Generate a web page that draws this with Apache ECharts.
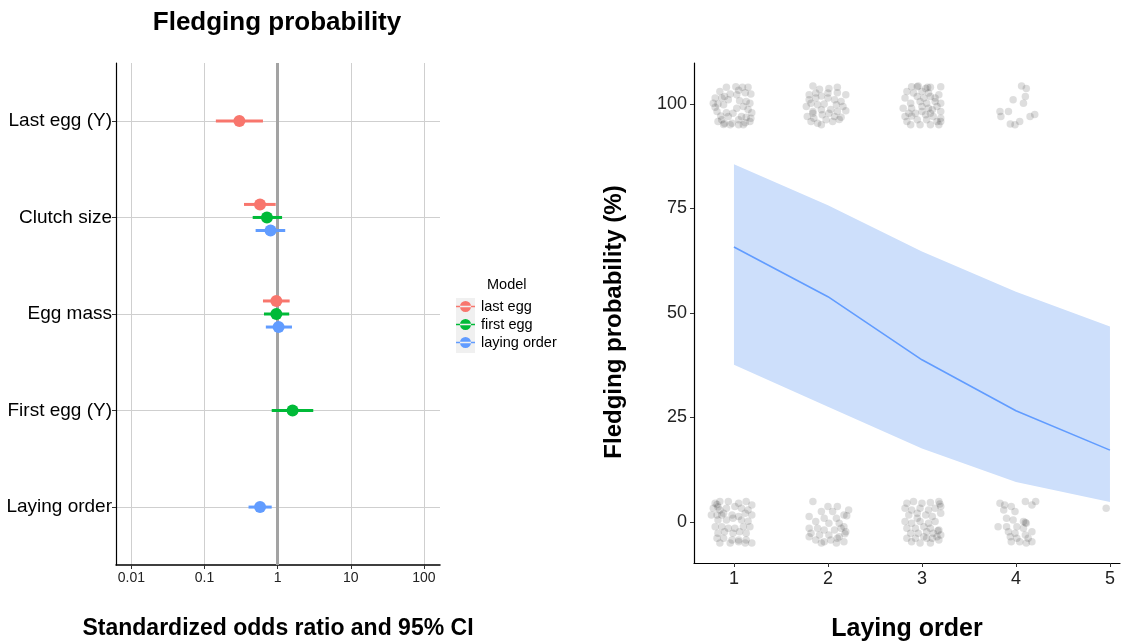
<!DOCTYPE html>
<html>
<head>
<meta charset="utf-8">
<script src="https://cdn.jsdelivr.net/npm/echarts@6/dist/echarts.min.js"></script>
<style>
html,body{margin:0;padding:0;background:#fff;}
#chart{width:1126px;height:641px;}
</style>
</head>
<body>
<div id="chart"></div>
<script>
// ---------- Left panel data ----------
const categories = ['Last egg (Y)', 'Clutch size', 'Egg mass', 'First egg (Y)', 'Laying order'];
const models = ['last egg', 'first egg', 'laying order'];
const modelColors = ['#F8766D', '#00BA38', '#619CFF'];
const oddsTickValues = [0.01, 0.1, 1, 10, 100];
const oddsTickLabels = ['0.01', '0.1', '1', '10', '100'];
// [categoryIndex, odds ratio, lower 95% CI, upper 95% CI]
const lastEggModel = [[0, 0.30, 0.143, 0.63], [1, 0.574, 0.347, 0.94], [2, 0.96, 0.63, 1.46]];
const firstEggModel = [[1, 0.714, 0.456, 1.15], [2, 0.96, 0.65, 1.44], [3, 1.60, 0.83, 3.07]];
const layingOrderModel = [[1, 0.80, 0.50, 1.27], [2, 1.03, 0.69, 1.57], [4, 0.575, 0.40, 0.83]];

// ---------- Right panel data ----------
const layingOrderTicks = [1, 2, 3, 4, 5];
const probTicks = [0, 25, 50, 75, 100];
const fitX = [1, 2, 3, 4, 5];
const fitMean = [65.8, 53.9, 38.8, 26.6, 17.2];
const fitLower = [37.6, 27.6, 17.6, 9.6, 4.8];
const fitUpper = [85.6, 75.8, 64.7, 55.1, 46.8];
// jittered raw observations (fledged = ~100, not fledged = ~0)
const obsTop1 = [[0.92,104.0],[1.02,104.1],[1.09,104.0],[1.15,104.0],[0.85,103.0],[0.96,102.4],[1.03,102.2],[1.12,102.7],[1.18,102.4],[0.80,101.4],[0.87,101.4],[0.83,100.0],[0.94,101.0],[1.06,100.8],[1.13,100.6],[1.17,100.2],[0.78,100.2],[0.89,99.8],[0.82,98.2],[0.92,97.9],[1.03,99.0],[1.10,99.4],[1.15,98.7],[0.86,97.1],[0.94,97.0],[1.08,97.0],[1.13,96.8],[1.18,96.6],[0.83,95.8],[0.90,95.4],[0.98,95.4],[1.05,96.2],[1.12,95.5],[1.17,95.8],[0.89,95.1],[0.96,95.0],[1.05,95.0],[1.10,95.0],[0.99,97.8],[0.80,99.2],[0.90,101.8],[1.05,103.3],[1.19,97.9],[0.87,96.2]];
const obsTop2 = [[1.84,104.3],[1.91,103.5],[2.01,103.7],[2.10,104.0],[2.19,102.2],[1.80,102.2],[1.87,101.4],[1.93,101.9],[2.00,101.4],[2.07,101.0],[2.14,100.6],[1.82,100.2],[1.89,99.8],[1.96,100.0],[2.09,99.8],[2.16,99.4],[1.77,99.4],[1.84,98.2],[1.93,98.6],[2.03,98.7],[2.10,98.2],[2.19,98.4],[1.78,97.0],[1.85,96.6],[1.94,97.4],[2.01,97.8],[2.07,97.0],[2.14,96.8],[1.82,95.8],[1.89,95.4],[1.98,96.2],[2.05,95.8],[2.12,96.3],[1.93,95.0],[1.84,97.8],[1.80,101.0],[1.87,102.6],[2.00,102.6],[2.10,102.7]];
const obsTop3 = [[2.89,104.1],[2.96,104.3],[3.04,103.7],[3.09,104.0],[3.20,104.1],[2.84,103.0],[2.91,102.6],[3.00,103.0],[3.07,102.6],[2.82,101.4],[2.95,101.8],[3.02,101.4],[3.09,101.8],[3.18,102.2],[2.88,100.2],[2.98,100.6],[3.05,100.2],[3.14,100.6],[3.20,100.2],[2.80,99.0],[2.89,99.0],[3.00,99.4],[3.07,99.0],[3.16,99.4],[2.86,97.8],[2.93,97.8],[3.00,98.2],[3.09,97.8],[3.20,98.2],[2.82,97.0],[2.89,97.1],[3.04,97.4],[3.12,97.0],[3.20,96.6],[2.84,95.8],[2.95,96.2],[3.05,96.2],[3.16,95.8],[3.20,95.8],[2.88,95.0],[2.98,95.0],[3.09,95.0],[3.18,95.0],[3.11,98.6],[3.14,101.4],[2.95,104.1],[3.06,104.0]];
const obsTop4 = [[4.06,104.3],[4.11,103.7],[4.10,101.8],[3.97,101.0],[4.08,100.2],[3.92,98.2],[3.83,98.2],[3.84,97.0],[4.15,97.0],[4.20,97.5],[4.04,95.8],[3.94,95.2],[3.99,95.0]];
const obsBottom1 = [[0.80,4.5],[0.85,4.9],[0.94,4.9],[1.05,4.5],[1.13,4.9],[1.19,4.1],[0.78,3.3],[0.85,2.9],[0.92,3.3],[1.01,3.7],[1.08,3.3],[1.15,2.9],[0.82,1.7],[0.89,2.1],[0.98,1.7],[1.05,1.3],[1.12,2.1],[1.19,1.7],[0.83,0.5],[0.92,0.5],[0.99,0.9],[1.08,0.5],[1.15,0.2],[0.80,-1.1],[0.87,-1.1],[0.94,-1.5],[1.01,-1.5],[1.10,-1.1],[1.17,-1.1],[0.83,-2.7],[0.90,-2.3],[0.99,-2.7],[1.06,-2.3],[1.13,-2.7],[0.82,-3.9],[0.89,-3.9],[0.98,-4.3],[1.05,-4.3],[1.13,-4.3],[0.85,-5.0],[0.96,-5.0],[1.05,-4.7],[1.12,-5.0],[1.19,-5.0],[0.87,1.7],[0.76,1.7],[0.82,4.2],[0.83,3.6]];
const obsBottom2 = [[1.84,4.9],[2.00,3.7],[2.10,3.7],[2.22,2.9],[1.93,2.5],[2.05,2.5],[1.80,1.3],[1.96,0.9],[2.09,0.9],[2.17,1.7],[1.87,0.1],[2.01,-0.3],[2.12,-0.3],[2.17,-1.1],[1.80,-1.5],[1.89,-1.5],[1.96,-1.9],[2.07,-1.9],[2.14,-1.5],[2.19,-2.3],[1.82,-2.7],[1.91,-3.1],[2.01,-3.1],[2.12,-3.5],[1.80,-3.5],[1.87,-4.3],[1.96,-4.7],[2.03,-4.3],[2.10,-3.9],[2.17,-4.7],[1.93,-5.0],[2.09,-5.0],[2.20,1.5],[2.18,-2.8]];
const obsBottom3 = [[2.84,4.5],[2.91,4.9],[3.00,4.5],[3.09,4.7],[3.18,4.9],[3.20,3.7],[2.82,3.3],[2.89,2.9],[2.98,3.3],[3.07,2.9],[3.14,3.3],[2.86,1.7],[2.95,2.1],[3.04,1.7],[3.11,1.3],[3.20,2.1],[2.82,0.1],[2.89,-0.3],[2.98,0.1],[3.07,-0.3],[3.14,0.1],[2.84,-1.5],[2.93,-1.5],[3.02,-1.1],[3.09,-1.5],[3.18,-1.9],[2.88,-2.7],[2.96,-2.7],[3.05,-2.3],[3.12,-2.7],[3.20,-3.1],[2.84,-3.9],[2.93,-3.9],[3.02,-3.5],[3.11,-3.9],[3.18,-4.3],[2.89,-4.7],[2.98,-5.0],[3.09,-5.0],[3.16,-3.5],[2.95,0.9],[3.05,-3.9],[3.19,4.3],[3.17,-2.1]];
const obsBottom4 = [[3.83,4.5],[3.88,4.1],[3.95,3.7],[4.10,4.9],[4.17,4.1],[3.87,2.9],[3.99,2.5],[3.90,0.9],[3.97,0.5],[4.08,0.1],[4.11,-0.3],[4.10,-0.1],[3.81,-1.1],[3.90,-1.1],[4.01,-1.1],[4.08,-1.5],[3.92,-2.3],[3.99,-2.7],[4.17,-2.3],[3.94,-3.5],[4.01,-3.9],[4.10,-3.1],[4.13,-3.9],[4.04,-4.7],[4.17,-4.7],[4.11,-5.0],[3.95,-4.7],[4.21,4.9]];
const obsBottom5 = [[4.96,3.3]];

// ---------- Build ----------
const FONT = 'Liberation Sans, Arial, sans-serif';
const modelData = [lastEggModel, firstEggModel, layingOrderModel];
const dodgeStep = 0.135;
function dodgedSeriesData(mi) {
  return modelData[mi].map(function (row) {
    const cat = row[0];
    const present = [];
    modelData.forEach(function (md, k) { if (md.some(function (r) { return r[0] === cat; })) present.push(k); });
    const idx = present.indexOf(mi);
    const off = (idx - (present.length - 1) / 2) * dodgeStep;
    return [cat + 1 + off, Math.log10(row[1]), Math.log10(row[2]), Math.log10(row[3])];
  });
}
function errorRender(color) {
  return function (params, api) {
    const y = api.value(0);
    const pc = api.coord([api.value(1), y]);
    const pl = api.coord([api.value(2), y]);
    const ph = api.coord([api.value(3), y]);
    return {
      type: 'group',
      children: [
        { type: 'line', shape: { x1: pl[0], y1: pl[1], x2: ph[0], y2: ph[1] }, style: { stroke: color, lineWidth: 3 } },
        { type: 'circle', shape: { cx: pc[0], cy: pc[1], r: 6 }, style: { fill: color } }
      ]
    };
  };
}
const errorSeries = models.map(function (name, mi) {
  return {
    name: name, type: 'custom', xAxisIndex: 0, yAxisIndex: 0, z: 5,
    itemStyle: { color: modelColors[mi] },
    encode: { x: [1, 2, 3], y: 0 },
    data: dodgedSeriesData(mi),
    renderItem: errorRender(modelColors[mi])
  };
});

const obsAll = [].concat(obsTop1, obsTop2, obsTop3, obsTop4, obsBottom1, obsBottom2, obsBottom3, obsBottom4, obsBottom5);
const fitLine = fitX.map(function (x, i) { return [x, fitMean[i]]; });

const logTicks = oddsTickValues.map(function (v) { return Math.log10(v); });
const catTicks = categories.map(function (c, i) { return i + 1; });

const chart = echarts.init(document.getElementById('chart'), null, { renderer: 'canvas' });
chart.setOption({
  animation: false,
  backgroundColor: '#ffffff',
  textStyle: { fontFamily: FONT },
  grid: [
    { left: 116, top: 63, width: 324, height: 502, outerBoundsMode: 'none', containLabel: false },
    { left: 694, top: 63, width: 426, height: 500, outerBoundsMode: 'none', containLabel: false }
  ],
  xAxis: [
    {
      gridIndex: 0, type: 'value', min: -2.21, max: 2.22,
      name: 'Standardized odds ratio and 95% CI', nameLocation: 'middle', nameGap: 52,
      nameTextStyle: { fontSize: 23, fontWeight: 'bold', color: '#000', fontFamily: FONT },
      axisLine: { show: true, onZero: false, lineStyle: { color: '#000', width: 1.5 } },
      axisTick: { show: true, customValues: logTicks, length: 4, lineStyle: { color: '#333' } },
      axisLabel: {
        customValues: logTicks, margin: 6, fontSize: 14, color: '#222', fontFamily: FONT,
        formatter: function (v) { const i = logTicks.findIndex(function (t) { return Math.abs(t - v) < 1e-6; }); return i >= 0 ? oddsTickLabels[i] : ''; }
      },
      splitLine: { show: true, lineStyle: { color: '#cfcfcf', width: 1 } }
    },
    {
      gridIndex: 1, type: 'value', min: 0.575, max: 5.107,
      name: 'Laying order', nameLocation: 'middle', nameGap: 54,
      nameTextStyle: { fontSize: 25, fontWeight: 'bold', color: '#000', fontFamily: FONT },
      axisLine: { show: true, onZero: false, lineStyle: { color: '#000', width: 1.2 } },
      axisTick: { show: true, customValues: layingOrderTicks, length: 4, lineStyle: { color: '#333' } },
      axisLabel: { customValues: layingOrderTicks, margin: 7, fontSize: 18, color: '#222', fontFamily: FONT },
      splitLine: { show: false }
    }
  ],
  yAxis: [
    {
      gridIndex: 0, type: 'value', min: 0.4, max: 5.6, inverse: true,
      axisLine: { show: true, onZero: false, lineStyle: { color: '#000', width: 1.2 } },
      axisTick: { show: true, customValues: catTicks, length: 4, lineStyle: { color: '#333' } },
      axisLabel: {
        customValues: catTicks, margin: 4, fontSize: 19, color: '#000', fontFamily: FONT,
        formatter: function (v) { return categories[Math.round(v) - 1] || ''; }
      },
      splitLine: { show: true, lineStyle: { color: '#cfcfcf', width: 1 } }
    },
    {
      gridIndex: 1, type: 'value', min: -9.8, max: 109.8,
      name: 'Fledging probability (%)', nameLocation: 'middle', nameGap: 68,
      nameTextStyle: { fontSize: 24, fontWeight: 'bold', color: '#000', fontFamily: FONT, padding: [0, 18, 0, 0] },
      axisLine: { show: true, onZero: false, lineStyle: { color: '#000', width: 1.2 } },
      axisTick: { show: true, customValues: probTicks, length: 4, lineStyle: { color: '#333' } },
      axisLabel: { customValues: probTicks, margin: 7, fontSize: 18, color: '#222', fontFamily: FONT },
      splitLine: { show: false }
    }
  ],
  legend: {
    data: models, orient: 'vertical', left: 456, top: 299,
    itemWidth: 19, itemHeight: 16, itemGap: 3, padding: 0,
    icon: 'path://M0,8.2 L19,8.2 L19,9.8 L0,9.8 Z M4,9 A5.5,5.5 0 1,0 15,9 A5.5,5.5 0 1,0 4,9 Z',
    textStyle: { fontSize: 14.5, color: '#000', fontFamily: FONT, padding: [0, 0, 0, 1] },
    selectedMode: false
  },
  graphic: [
    { type: 'text', x: 277, y: 23, style: { text: 'Fledging probability', textAlign: 'center', textVerticalAlign: 'middle', font: 'bold 26px ' + FONT, fill: '#000' } },
    { type: 'text', x: 487, y: 285, style: { text: 'Model', textAlign: 'left', textVerticalAlign: 'middle', font: '14.5px ' + FONT, fill: '#000' } },
    { type: 'rect', x: 456, y: 298, z: -10, shape: { width: 19, height: 55 }, style: { fill: '#f0f0f0' } }
  ],
  series: [
    {
      type: 'line', xAxisIndex: 0, yAxisIndex: 0, data: [], z: 2, silent: true,
      markLine: { silent: true, symbol: 'none', label: { show: false }, lineStyle: { color: '#a3a3a3', width: 3, type: 'solid' }, data: [{ xAxis: 0 }], animation: false }
    }
  ].concat(errorSeries, [
    {
      type: 'custom', xAxisIndex: 1, yAxisIndex: 1, z: 1, silent: true,
      data: [[fitX[0], fitLower[0]]],
      renderItem: function (params, api) {
        const pts = [];
        fitX.forEach(function (x, i) { pts.push(api.coord([x, fitUpper[i]])); });
        for (let i = fitX.length - 1; i >= 0; i--) pts.push(api.coord([fitX[i], fitLower[i]]));
        return { type: 'polygon', shape: { points: pts }, style: { fill: '#cddffb' } };
      }
    },
    {
      type: 'line', xAxisIndex: 1, yAxisIndex: 1, z: 3, data: fitLine,
      showSymbol: false, symbol: 'none', lineStyle: { color: '#619CFF', width: 1.6 }, silent: true
    },
    {
      type: 'scatter', xAxisIndex: 1, yAxisIndex: 1, z: 4, data: obsAll,
      symbolSize: 7.5, itemStyle: { color: 'rgba(0,0,0,0.16)' }, silent: true
    }
  ])
});
</script>
</body>
</html>
